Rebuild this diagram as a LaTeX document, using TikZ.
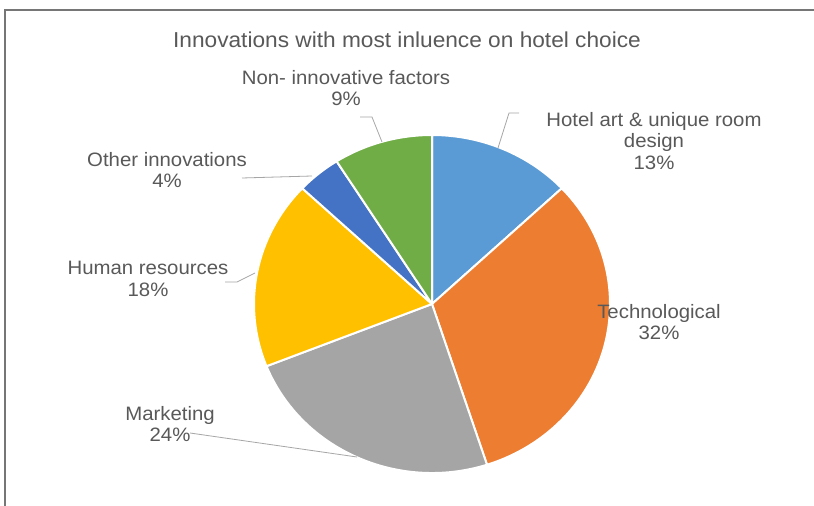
\documentclass[tikz,border=0pt]{standalone}
\usepackage{fontspec}
\setmainfont{Liberation Sans}[FakeStretch=1.05]
\definecolor{txt}{HTML}{595959}
\definecolor{lead}{HTML}{A6A6A6}
\definecolor{frame}{HTML}{767676}
\definecolor{cblue}{HTML}{5B9BD5}
\definecolor{corange}{HTML}{ED7D31}
\definecolor{cgray}{HTML}{A5A5A5}
\definecolor{cgold}{HTML}{FFC000}
\definecolor{cdblue}{HTML}{4472C4}
\definecolor{cgreen}{HTML}{70AD47}
\tikzset{
  slice/.style={draw=white, line width=2pt, line join=round},
  lbl/.style={text=txt, align=center, inner sep=0pt, font=\fontsize{19.4}{21.5}\selectfont},
  ttl/.style={text=txt, inner sep=0pt, font=\fontsize{21.6}{25}\selectfont},
  leader/.style={draw=lead, line width=0.8pt},
}
\newcommand{\pieslice}[3]{%
  \filldraw[slice, fill=#1] (C) -- +(#2:178 and 169)
    arc[start angle=#2, end angle=#3, x radius=178, y radius=169] -- cycle;}
\begin{document}
\begin{tikzpicture}[x=1pt,y=1pt]
\useasboundingbox (0,0) rectangle (814,506);
\fill[white] (0,0) rectangle (814,506);
% frame
\draw[frame, line width=1.6pt] (5,0) -- (5,496) -- (814,496);
% title
\node[ttl] (title) at (407,466) {Innovations with most inluence on hotel choice};
% pie
\coordinate (C) at (432,202);
\pieslice{cblue}{90}{43.2}
\pieslice{corange}{43.2}{-72}
\pieslice{cgray}{-72}{-158.4}
\pieslice{cgold}{-158.4}{-223.2}
\pieslice{cdblue}{-223.2}{-237.6}
\pieslice{cgreen}{-237.6}{-270}
% labels
\node[lbl] (nonin) at (346,418) {Non- innovative factors\\9\%};
\node[lbl] (hotel) at (654,365) {Hotel art \& unique room\\design\\13\%};
\node[lbl] (other) at (167,336) {Other innovations\\4\%};
\node[lbl] (human) at (148,227) {Human resources\\18\%};
\node[lbl] (mkt) at (170,82) {Marketing\\24\%};
\node[lbl] (tech) at (659,184) {Technological\\32\%};
% leader end points
\coordinate (nonA) at (360,389);
\coordinate (nonB) at (372,389);
\coordinate (nonC) at (382,364);
\coordinate (hotA) at (519,393);
\coordinate (hotB) at (509,393);
\coordinate (hotC) at (498,358);
\coordinate (othA) at (242,328);
\coordinate (othC) at (312,330);
\coordinate (humA) at (225,224);
\coordinate (humB) at (237,224);
\coordinate (humC) at (255,233);
\coordinate (mktA) at (190,73);
\coordinate (mktC) at (357,49);
\draw[leader] (nonA) -- (nonB) -- (nonC);
\draw[leader] (hotA) -- (hotB) -- (hotC);
\draw[leader] (othA) -- (othC);
\draw[leader] (humA) -- (humB) -- (humC);
\draw[leader] (mktA) -- (mktC);
\end{tikzpicture}
\end{document}
